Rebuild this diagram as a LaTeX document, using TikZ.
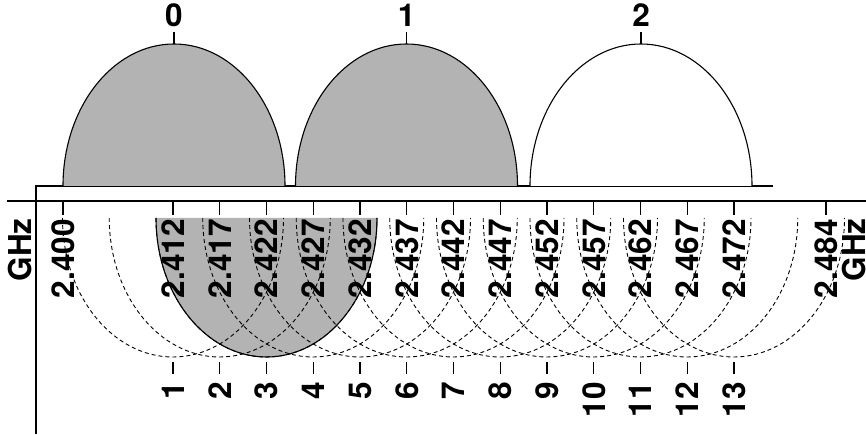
\documentclass[tikz,border=0pt]{standalone}
\usepackage{fontspec}
\setmainfont{TeX Gyre Heros}
\usetikzlibrary{positioning}
\definecolor{LobeGray}{HTML}{B3B3B3}
\newcommand{\lblfont}{\fontsize{31.5}{31.5}\selectfont\bfseries}

\begin{document}
\begin{tikzpicture}[
  x=1pt, y=1pt,
  axis/.style={line width=1.1pt},
  lobe/.style={line width=1.1pt},
  chanarc/.style={line width=0.9pt, dash pattern=on 4pt off 3pt},
  tickline/.style={line width=1.1pt},
  vlabel/.style={rotate=90, anchor=east, inner sep=0pt, font=\lblfont},
  hlabel/.style={anchor=base, inner sep=0pt, font=\lblfont}
]
  \useasboundingbox (0,0) rectangle (866,434);

  % axes
  \coordinate (ll) at (7,233);
  \coordinate (lr) at (866,233);
  \coordinate (ul) at (36,248);
  \coordinate (ur) at (773,248);
  \coordinate (bl) at (36,0);
  \draw[axis] (ll) -- (lr);
  \draw[axis] (bl) -- (ul) -- (ur);

  % the three non-overlapping channels
  \foreach \n/\cx/\col in {0/174/LobeGray, 1/406.5/LobeGray, 2/641/white} {
    \filldraw[lobe, fill=\col] (\cx-111,248) arc[start angle=180, end angle=0, x radius=111, y radius=142];
    \coordinate (top\n) at (\cx,390);
    \node[hlabel] (lob\n) at (\cx,407) {\n};
    \draw[tickline] (top\n) -- ([yshift=-5pt]lob\n.base);
  }

  % channel 3 band
  \fill[LobeGray] (156,216) arc[start angle=180, end angle=360, x radius=110.5, y radius=139] -- cycle;

  % all 13 channels
  \foreach \ch in {1,...,13} {
    \pgfmathsetmacro{\cx}{126.25+46.75*\ch}
    \draw[chanarc] (\cx-110.5,216) arc[start angle=180, end angle=360, x radius=110.5, y radius=139];
    \coordinate (ct\ch) at (\cx,72);
    \node[vlabel] (ch\ch) at (\cx,52) {\ch};
    \draw[tickline] (ct\ch) -- ([yshift=8pt]ch\ch.east);
  }
  \draw[lobe] (156,216) arc[start angle=180, end angle=360, x radius=110.5, y radius=139];

  % frequencies
  \foreach \nm/\f/\fx in {f0/2.400/63, f1/2.412/173, f2/2.417/219.75, f3/2.422/266.5,
      f4/2.427/313.25, f5/2.432/360, f6/2.437/406.75, f7/2.442/453.5, f8/2.447/500.25,
      f9/2.452/547, f10/2.457/593.75, f11/2.462/640.5, f12/2.467/687.25, f13/2.472/734,
      f14/2.484/826} {
    \coordinate (\nm t) at (\fx,233);
    \node[vlabel] (\nm) at (\fx,215) {\f};
    \draw[tickline] (\nm t) -- ([yshift=4pt]\nm.east);
  }

  \node[vlabel, anchor=center] (ghzl) at (20,184) {GHz};
  \node[vlabel, anchor=center] (ghzr) at (854,184) {GHz};
\end{tikzpicture}
\end{document}
